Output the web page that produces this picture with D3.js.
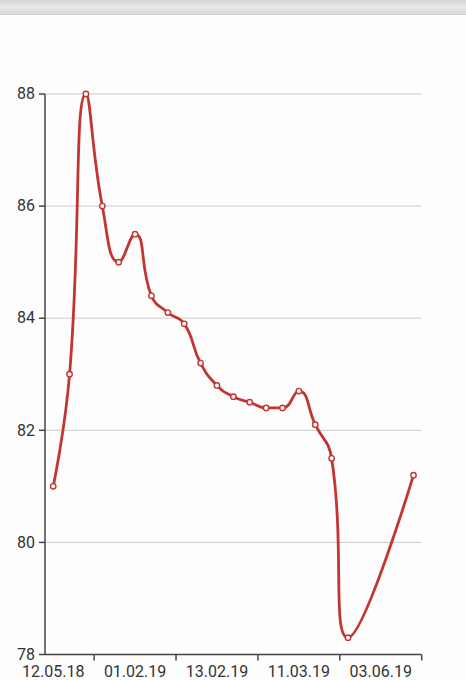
<!DOCTYPE html>
<html>
<head>
<meta charset="utf-8">
<script src="https://cdn.jsdelivr.net/npm/d3@7"></script>
<style>
  html, body { margin: 0; padding: 0; background: #fdfdfd; }
  svg { display: block; }
  text { font-family: Roboto, "Noto Sans", sans-serif; }
</style>
</head>
<body>
<svg id="chart" width="466" height="680"></svg>
<script>
// ---- data ----
const categoryCount = 23;
const values = [81, 83, 88, 86, 85, 85.5, 84.4, 84.1, 83.9, 83.2, 82.8, 82.6, 82.5, 82.4, 82.4, 82.7, 82.1, 81.5, 78.3, null, null, null, 81.2];
const tickLabels = ["12.05.18", "01.02.19", "13.02.19", "11.03.19", "03.06.19"];
const tickLabelIndex = [0, 5, 10, 15, 20];
const tickBoundaries = [3, 8, 13, 18, 23];
const yTicks = [78, 80, 82, 84, 86, 88];

// ---- echarts-like smooth curve (with extreme clamping) ----
function SmoothCurve(context) { this._context = context; }
SmoothCurve.prototype = {
  areaStart() {}, areaEnd() {},
  lineStart() { this._pts = []; },
  point(x, y) { this._pts.push([+x, +y]); },
  lineEnd() {
    const ctx = this._context, pts = this._pts, smooth = 0.5;
    const mn = Math.min, mx = Math.max;
    let prevX, prevY, cpx0, cpy0, cpx1, cpy1;
    for (let i = 0; i < pts.length; i++) {
      const [x, y] = pts[i];
      if (i === 0) { ctx.moveTo(x, y); cpx0 = x; cpy0 = y; }
      else {
        let nextCpx0, nextCpy0;
        if (i === pts.length - 1) { cpx1 = x; cpy1 = y; }
        else {
          const [nx, ny] = pts[i + 1];
          let vx = nx - prevX, vy = ny - prevY;
          const dx0 = x - prevX, dy0 = y - prevY, dx1 = nx - x, dy1 = ny - y;
          const lp = Math.sqrt(dx0 * dx0 + dy0 * dy0);
          const ln = Math.sqrt(dx1 * dx1 + dy1 * dy1);
          const r = ln / (ln + lp);
          nextCpx0 = x + vx * smooth * r;
          nextCpy0 = y + vy * smooth * r;
          nextCpx0 = mn(nextCpx0, mx(nx, x)); nextCpy0 = mn(nextCpy0, mx(ny, y));
          nextCpx0 = mx(nextCpx0, mn(nx, x)); nextCpy0 = mx(nextCpy0, mn(ny, y));
          vx = nextCpx0 - x; vy = nextCpy0 - y;
          cpx1 = x - vx * lp / ln; cpy1 = y - vy * lp / ln;
          cpx1 = mn(cpx1, mx(prevX, x)); cpy1 = mn(cpy1, mx(prevY, y));
          cpx1 = mx(cpx1, mn(prevX, x)); cpy1 = mx(cpy1, mn(prevY, y));
          vx = x - cpx1; vy = y - cpy1;
          nextCpx0 = x + vx * ln / lp; nextCpy0 = y + vy * ln / lp;
        }
        ctx.bezierCurveTo(cpx0, cpy0, cpx1, cpy1, x, y);
        cpx0 = nextCpx0; cpy0 = nextCpy0;
      }
      prevX = x; prevY = y;
    }
  }
};
const curveSmooth = (context) => new SmoothCurve(context);

// ---- layout ----
const svg = d3.select("#chart");
const plotLeft = 45, plotRight = 421.7, plotTop = 94, plotBottom = 654.5;

// top bar
const defs = svg.append("defs");
const grad = defs.append("linearGradient").attr("id", "bar").attr("x1", 0).attr("y1", 0).attr("x2", 0).attr("y2", 1);
grad.append("stop").attr("offset", "0%").attr("stop-color", "#d4d4d4");
grad.append("stop").attr("offset", "45%").attr("stop-color", "#e6e6e6");
grad.append("stop").attr("offset", "100%").attr("stop-color", "#dcdcdc");
svg.append("rect").attr("x", 0).attr("y", 0).attr("width", 466).attr("height", 14).attr("fill", "url(#bar)");
svg.append("rect").attr("x", 0).attr("y", 14).attr("width", 466).attr("height", 1).attr("fill", "#d2d2d2");

const x = d3.scaleBand().domain(d3.range(categoryCount)).range([plotLeft, plotRight]).padding(0);
const y = d3.scaleLinear().domain([78, 88]).range([plotBottom, plotTop]);
const cx = i => x(i) + x.bandwidth() / 2;
const bx = b => b >= categoryCount ? plotRight : x(b);

// gridlines
svg.append("g").selectAll("line").data(yTicks.filter(t => t !== 78)).join("line")
  .attr("x1", plotLeft).attr("x2", plotRight)
  .attr("y1", d => y(d)).attr("y2", d => y(d))
  .attr("stroke", "#cccccc").attr("stroke-width", 1);

// y axis
const yAxis = svg.append("g");
yAxis.append("line").attr("x1", plotLeft).attr("x2", plotLeft).attr("y1", y(88)).attr("y2", y(78))
  .attr("stroke", "#444").attr("stroke-width", 1.5);
yAxis.selectAll("line.t").data(yTicks).join("line").attr("class", "t")
  .attr("x1", plotLeft - 6).attr("x2", plotLeft).attr("y1", d => y(d)).attr("y2", d => y(d))
  .attr("stroke", "#444").attr("stroke-width", 1.5);
yAxis.selectAll("text").data(yTicks).join("text")
  .attr("x", plotLeft - 10).attr("y", d => y(d)).attr("dy", "0.33em")
  .attr("text-anchor", "end").attr("font-size", 16).attr("fill", "#333")
  .text(d => d);

// x axis
const xAxis = svg.append("g");
xAxis.append("line").attr("x1", plotLeft).attr("x2", plotRight).attr("y1", plotBottom).attr("y2", plotBottom)
  .attr("stroke", "#444").attr("stroke-width", 1.5);
xAxis.selectAll("line.t").data(tickBoundaries).join("line").attr("class", "t")
  .attr("x1", d => bx(d)).attr("x2", d => bx(d)).attr("y1", plotBottom).attr("y2", plotBottom + 6)
  .attr("stroke", "#444").attr("stroke-width", 1.5);
xAxis.selectAll("text").data(tickLabels).join("text")
  .attr("x", (d, i) => cx(tickLabelIndex[i])).attr("y", plotBottom + 22)
  .attr("text-anchor", "middle").attr("font-size", 16).attr("fill", "#333")
  .text(d => d);

// line
const pts = values.map((v, i) => ({ i, v })).filter(d => d.v !== null);
const line = d3.line().x(d => cx(d.i)).y(d => y(d.v)).curve(curveSmooth);
svg.append("path").datum(pts).attr("d", line)
  .attr("fill", "none").attr("stroke", "#c23531").attr("stroke-width", 2.8)
  .attr("stroke-linejoin", "round");

svg.append("g").selectAll("circle").data(pts).join("circle")
  .attr("cx", d => cx(d.i)).attr("cy", d => y(d.v)).attr("r", 2.7)
  .attr("fill", "#fff").attr("stroke", "#c23531").attr("stroke-width", 1.4);
</script>
</body>
</html>
